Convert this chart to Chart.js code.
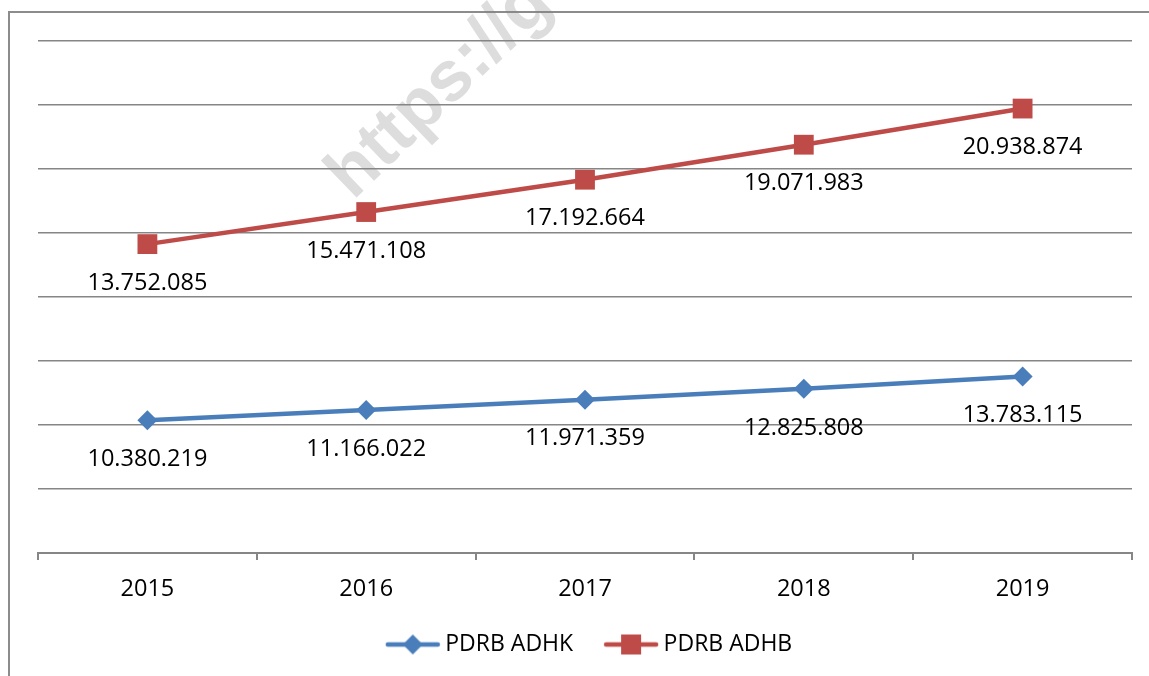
<!DOCTYPE html>
<html>
<head>
<meta charset="utf-8">
<script src="https://cdn.jsdelivr.net/npm/chart.js@4/dist/chart.umd.min.js"></script>
<style>
    html, body { margin: 0; padding: 0; background: #fff; }
    #wrap { width: 1149px; height: 676px; }
</style>
</head>
<body>
<div id="wrap"><canvas id="pdrb-chart" width="1149" height="676"></canvas></div>
<script>
    "use strict";

    // Data
    const years = ["2015", "2016", "2017", "2018", "2019"];
    const adhk = [10380219, 11166022, 11971359, 12825808, 13783115];
    const adhb = [13752085, 15471108, 17192664, 19071983, 20938874];
    const yMin = 0;
    const yMax = 40000000;
    const yStep = 5000000;

    const FONT = "'Open Sans', 'Noto Sans', sans-serif";
    const BLUE = "#4A7EBB";
    const RED = "#BE4B48";
    const GRID = "#868686";

    // 10380219 -> 10.380.219
    const fmt = v => String(v).replace(/\B(?=(\d{3})+(?!\d))/g, ".");

    // Legend icon: line with marker in the middle
    const legendIcon = function (color, shape) {
        const c = document.createElement("canvas");
        c.width = 56;
        c.height = 22;
        const g = c.getContext("2d");
        g.strokeStyle = color;
        g.lineWidth = 4.5;
        g.lineCap = "round";
        g.beginPath();
        g.moveTo(3, 11);
        g.lineTo(53, 11);
        g.stroke();
        g.fillStyle = color;
        g.beginPath();
        if (shape === "diamond") {
            g.moveTo(28, 1);
            g.lineTo(38, 11);
            g.lineTo(28, 21);
            g.lineTo(18, 11);
        } else {
            g.rect(18, 1, 20, 20);
        }
        g.closePath();
        g.fill();
        return c;
    };
    const icons = [legendIcon(BLUE, "diamond"), legendIcon(RED, "square")];

    // Frame + watermark behind the chart
    const backdrop = {
        id: "backdrop",
        beforeDraw(chart) {
            const ctx = chart.ctx;
            ctx.save();
            ctx.fillStyle = "#fff";
            ctx.fillRect(0, 0, chart.width, chart.height);
            ctx.strokeStyle = "#8c8c8c";
            ctx.lineWidth = 2;
            ctx.beginPath();
            ctx.moveTo(9, chart.height + 2);
            ctx.lineTo(9, 12);
            ctx.lineTo(chart.width + 2, 12);
            ctx.stroke();

            ctx.translate(353, 201);
            ctx.rotate(-44 * Math.PI / 180);
            ctx.font = "bold 71px 'Liberation Sans', Arial, sans-serif";
            ctx.fillStyle = "rgba(128, 128, 128, 0.27)";
            ctx.textBaseline = "alphabetic";
            ctx.fillText("https://go", 0, 0);
            ctx.restore();
        }
    };

    // Legend sits a little right of centre in the original
    const legendShift = {
        id: "legendShift",
        afterLayout(chart) {
            chart.legend.left += 14;
        }
    };

    // Value labels under each point
    const valueLabels = {
        id: "valueLabels",
        afterDatasetsDraw(chart) {
            const ctx = chart.ctx;
            ctx.save();
            ctx.font = "23.5px " + FONT;
            ctx.fillStyle = "#000";
            ctx.textAlign = "center";
            ctx.textBaseline = "middle";
            chart.data.datasets.forEach((ds, i) => {
                chart.getDatasetMeta(i).data.forEach((pt, j) => {
                    ctx.fillText(fmt(ds.data[j]), pt.x, pt.y + 39);
                });
            });
            ctx.restore();
        }
    };

    const ctx = document.getElementById("pdrb-chart").getContext("2d");
    const pdrbChart = new Chart(ctx, {
        type: "line",
        data: {
            labels: years,
            datasets: [{
                label: "PDRB ADHK",
                data: adhk,
                borderColor: BLUE,
                backgroundColor: BLUE,
                borderWidth: 4.5,
                pointStyle: "rectRot",
                pointRadius: 10,
                pointHoverRadius: 10,
                pointBorderWidth: 0,
                fill: false
            },
            {
                label: "PDRB ADHB",
                data: adhb,
                borderColor: RED,
                backgroundColor: RED,
                borderWidth: 4.5,
                pointStyle: "rect",
                pointRadius: 14,
                pointHoverRadius: 14,
                pointBorderWidth: 0,
                fill: false
            }
            ]
        },
        options: {
            responsive: false,
            animation: false,
            devicePixelRatio: 1,
            layout: {
                padding: { left: 38, right: 17, top: 41, bottom: 10 }
            },
            scales: {
                x: {
                    offset: true,
                    afterFit: scale => { scale.height = 43; },
                    grid: {
                        offset: true,
                        drawOnChartArea: false,
                        drawTicks: true,
                        tickLength: 7,
                        color: GRID,
                        lineWidth: 2
                    },
                    border: { color: GRID, width: 2 },
                    ticks: {
                        color: "#000",
                        font: { size: 23.5, family: FONT, lineHeight: 0.8 },
                        padding: 20
                    }
                },
                y: {
                    stacked: true,
                    min: yMin,
                    max: yMax,
                    ticks: { display: false, stepSize: yStep },
                    grid: { color: GRID, lineWidth: 1.5, drawTicks: false },
                    border: { display: false }
                }
            },
            plugins: {
                tooltip: { enabled: false },
                legend: {
                    position: "bottom",
                    labels: {
                        usePointStyle: true,
                        pointStyleWidth: 42,
                        boxHeight: 22,
                        padding: 37,
                        color: "#000",
                        font: { size: 23, family: FONT },
                        generateLabels(chart) {
                            const items = Chart.defaults.plugins.legend.labels.generateLabels(chart);
                            items.forEach((it, i) => { it.pointStyle = icons[i]; });
                            return items;
                        }
                    }
                }
            }
        },
        plugins: [backdrop, legendShift, valueLabels]
    });
</script>
</body>
</html>
